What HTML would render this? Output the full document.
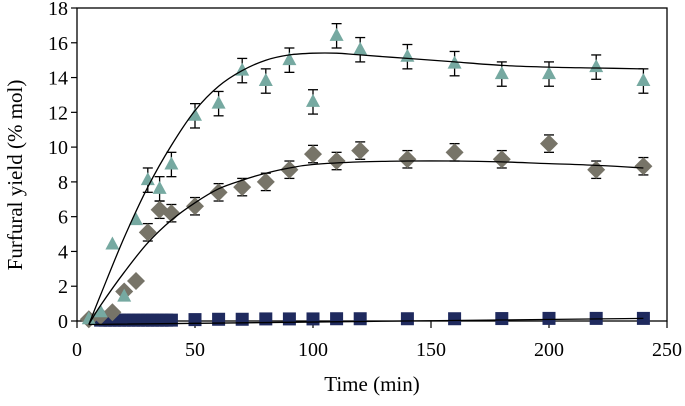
<!DOCTYPE html>
<html><head><meta charset="utf-8"><style>
body{margin:0;background:#fff}
#chart text{font-family:"Liberation Serif","Times New Roman",Times,serif}
</style></head><body>
<svg id="chart" width="685" height="401" xmlns="http://www.w3.org/2000/svg" style="font-family:'Liberation Serif','Times New Roman',Times,serif"></svg>
<script>
const triT=[5,10,15,20,25,30,35,40,50,60,70,80,90,100,110,120,140,160,180,200,220,240];
const triY=[0.1,0.5,4.4,1.4,5.8,8.1,7.6,9.0,11.8,12.5,14.4,13.8,15.0,12.6,16.4,15.6,15.2,14.8,14.2,14.2,14.6,13.8];
const diaT=[5,10,15,20,25,30,35,40,50,60,70,80,90,100,110,120,140,160,180,200,220,240];
const diaY=[0.1,0.3,0.5,1.7,2.3,5.1,6.4,6.2,6.6,7.4,7.7,8.0,8.7,9.6,9.2,9.8,9.3,9.7,9.3,10.2,8.7,8.9];
const sqT=[10,12,14,16,18,20,22,24,26,28,30,32,34,36,38,40,50,60,70,80,90,100,110,120,140,160,180,200,220,240];
const sqY=[0.05,0.05,0.05,0.05,0.05,0.05,0.05,0.05,0.05,0.05,0.05,0.05,0.05,0.05,0.05,0.05,0.08,0.1,0.1,0.12,0.12,0.12,0.13,0.13,0.13,0.13,0.14,0.15,0.15,0.15];
const fitTriT=[5,10,20,30,40,50,60,70,80,90,100,110,120,140,160,180,200,220,240];
const fitTriY=[-0.2,1.5,4.8,7.7,10.1,12.1,13.5,14.4,15.0,15.3,15.4,15.4,15.3,15.1,14.9,14.7,14.6,14.55,14.5];
const fitDiaT=[5,10,20,30,40,50,60,70,80,90,100,120,140,160,180,200,220,240];
const fitDiaY=[-0.2,0.9,2.8,4.5,5.8,6.8,7.6,8.1,8.5,8.8,9.0,9.15,9.2,9.2,9.15,9.05,8.95,8.8];
const fitSqT=[5,240];
const fitSqY=[-0.2,0.15];
const xTicks=[0,50,100,150,200,250];
const yTicks=[0,2,4,6,8,10,12,14,16,18];
const triErr=0.7, diaErr=0.5;

const X0=77,X1=667,Y0=321,Y1=8;
const xs=v=>X0+(v-0)/250*(X1-X0);
const ys=v=>Y0-(v/18)*(Y0-Y1);
const svg=document.getElementById('chart');
const NS='http://www.w3.org/2000/svg';
function mk(tag,attrs,parent){const e=document.createElementNS(NS,tag);for(const k in attrs)e.setAttribute(k,attrs[k]);(parent||svg).appendChild(e);return e;}

let g=mk('g',{});


mk('rect',{x:X0,y:Y1,width:X1-X0,height:Y0-Y1,fill:'none',stroke:'#000','stroke-width':1.3},g);

let ga=mk('g',{});


yTicks.forEach(t=>{
  mk('line',{x1:X0-6,x2:X0,y1:ys(t),y2:ys(t),stroke:'#000','stroke-width':1.2},ga);
  const tx=mk('text',{x:X0-9,y:ys(t)+7,'text-anchor':'end','font-size':20},ga);
  tx.textContent=t;
  
  
});
let gx=mk('g',{});


xTicks.forEach(t=>{
  mk('line',{x1:xs(t),x2:xs(t),y1:Y0,y2:Y0+7,stroke:'#000','stroke-width':1.2},gx);
  const tx=mk('text',{x:xs(t),y:Y0+35,'text-anchor':'middle','font-size':20},gx);
  tx.textContent=t;
  
  
});
let xt=mk('text',{x:372,y:391,'text-anchor':'middle','font-size':21});
xt.textContent='Time (min)';


let yt=mk('text',{x:0,y:0,'text-anchor':'middle','font-size':21,transform:'translate(22,175) rotate(-90)'});
yt.textContent='Furfural  yield (% mol)';
yt.setAttribute('xml:space','preserve');



function fit(T,Y,name){
  const P=T.map((t,i)=>[xs(t),ys(Y[i])]);
  let d='M'+P[0][0].toFixed(1)+','+P[0][1].toFixed(1);
  for(let i=0;i<P.length-1;i++){
    const p0=P[Math.max(0,i-1)],p1=P[i],p2=P[i+1],p3=P[Math.min(P.length-1,i+2)];
    const c1=[p1[0]+(p2[0]-p0[0])/6,p1[1]+(p2[1]-p0[1])/6];
    const c2=[p2[0]-(p3[0]-p1[0])/6,p2[1]-(p3[1]-p1[1])/6];
    d+=`C${c1[0].toFixed(1)},${c1[1].toFixed(1)} ${c2[0].toFixed(1)},${c2[1].toFixed(1)} ${p2[0].toFixed(1)},${p2[1].toFixed(1)}`;
  }
  const p=mk('path',{d:d,fill:'none',stroke:'#000','stroke-width':1.3});
  
  
}
function errs(T,Y,e,name){
  const gg=mk('g',{stroke:'#000','stroke-width':1.3});
  
  
  T.forEach((t,i)=>{
    if(t<30)return;
    const x=xs(t),a=ys(Y[i]+e),b=ys(Y[i]-e);
    mk('line',{x1:x,x2:x,y1:a,y2:b},gg);
    mk('line',{x1:x-5,x2:x+5,y1:a,y2:a},gg);
    mk('line',{x1:x-5,x2:x+5,y1:b,y2:b},gg);
  });
}
errs(triT,triY,triErr,'triangle-error-bars');
errs(diaT,diaY,diaErr,'diamond-error-bars');

let gs=mk('g',{fill:'#1f2a5e'});


sqT.forEach((t,i)=>{
  const r=mk('rect',{x:xs(t)-6.5,y:ys(sqY[i])-6.5,width:13,height:13},gs);
  
  
});
let gd=mk('g',{fill:'#777468'});


diaT.forEach((t,i)=>{
  const x=xs(t),y=ys(diaY[i]);
  const p=mk('polygon',{points:`${x},${y-9} ${x+9},${y} ${x},${y+9} ${x-9},${y}`},gd);
  
  
});
let gt=mk('g',{fill:'#76a9a1'});


triT.forEach((t,i)=>{
  const x=xs(t),y=ys(triY[i]);
  const p=mk('polygon',{points:`${x},${y-8} ${x+7},${y+5} ${x-7},${y+5}`},gt);
  
  
});
fit(fitTriT,fitTriY,'triangle-fit-curve');
fit(fitDiaT,fitDiaY,'diamond-fit-curve');
fit(fitSqT,fitSqY,'square-fit-line');
</script>
</body></html>
